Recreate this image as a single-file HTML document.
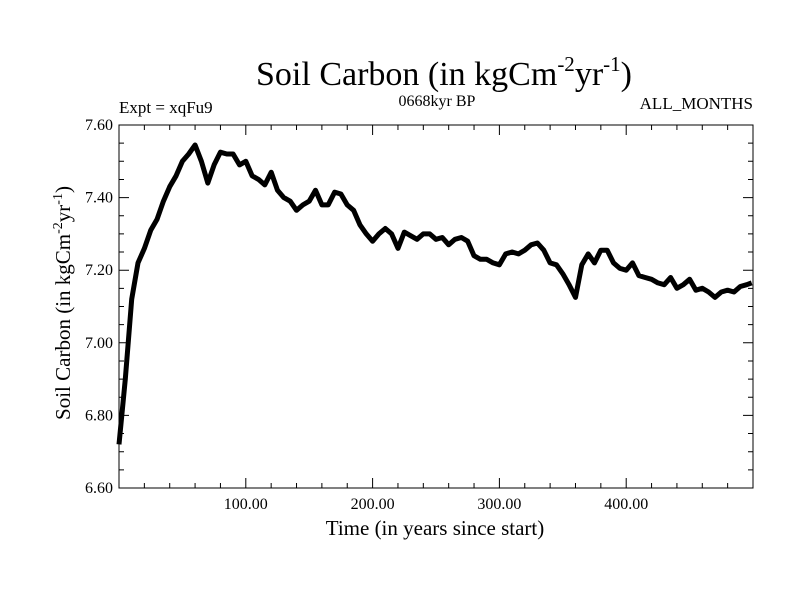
<!DOCTYPE html>
<html><head><meta charset="utf-8"><style>
body{margin:0;background:#fff}
svg text{font-family:"Liberation Serif",serif;fill:#000}
</style></head><body>
<svg width="800" height="600" viewBox="0 0 800 600">
<text x="444" y="85" font-size="34" text-anchor="middle">Soil Carbon (in kgCm<tspan font-size="21" dy="-14">-2</tspan><tspan dy="14">yr</tspan><tspan font-size="21" dy="-14">-1</tspan><tspan dy="14">)</tspan></text>
<text x="119" y="113" font-size="17">Expt = xqFu9</text>
<text x="437" y="106" font-size="16" text-anchor="middle">0668kyr BP</text>
<text x="753" y="109" font-size="17" text-anchor="end">ALL_MONTHS</text>
<text x="435" y="535" font-size="21" text-anchor="middle">Time (in years since start)</text>
<text transform="translate(70,303) rotate(-90)" font-size="21" text-anchor="middle">Soil Carbon (in kgCm<tspan font-size="14" dy="-8">-2</tspan><tspan dy="8">yr</tspan><tspan font-size="14" dy="-8">-1</tspan><tspan dy="8">)</tspan></text>
<g id="axes"></g>
<g id="series"></g>
<rect x="119" y="125" width="634" height="363" fill="none" stroke="#000" stroke-width="1"/>
</svg>
<script>
const years=[0,5,10,15,20,25,30,35,40,45,50,55,60,65,70,75,80,85,90,95,100,105,110,115,120,125,130,135,140,145,150,155,160,165,170,175,180,185,190,195,200,205,210,215,220,225,230,235,240,245,250,255,260,265,270,275,280,285,290,295,300,305,310,315,320,325,330,335,340,345,350,355,360,365,370,375,380,385,390,395,400,405,410,415,420,425,430,435,440,445,450,455,460,465,470,475,480,485,490,495,499];
const soilCarbon=[6.72,6.90,7.12,7.22,7.26,7.31,7.34,7.39,7.43,7.46,7.50,7.52,7.545,7.50,7.44,7.49,7.525,7.52,7.52,7.49,7.50,7.46,7.45,7.435,7.47,7.42,7.40,7.39,7.365,7.38,7.39,7.42,7.38,7.38,7.415,7.41,7.38,7.365,7.325,7.30,7.28,7.30,7.315,7.30,7.26,7.305,7.295,7.285,7.30,7.30,7.285,7.29,7.27,7.285,7.29,7.28,7.24,7.23,7.23,7.22,7.215,7.245,7.25,7.245,7.255,7.27,7.275,7.255,7.22,7.215,7.19,7.16,7.125,7.215,7.245,7.22,7.255,7.255,7.22,7.205,7.20,7.22,7.185,7.18,7.175,7.165,7.16,7.18,7.15,7.16,7.175,7.145,7.15,7.14,7.125,7.14,7.145,7.14,7.155,7.16,7.165];
const xTicks=[100,200,300,400];
const xTickLabels=["100.00","200.00","300.00","400.00"];
const yTicks=[6.6,6.8,7.0,7.2,7.4,7.6];
const yTickLabels=["6.60","6.80","7.00","7.20","7.40","7.60"];
const L=119,R=753,T=125,B=488,X0=0,X1=500,Y0=6.6,Y1=7.6;
const sx=v=>L+(v-X0)/(X1-X0)*(R-L);
const sy=v=>B-(v-Y0)/(Y1-Y0)*(B-T);
const NS="http://www.w3.org/2000/svg";
const ax=document.getElementById('axes');
function mk(t,a){const e=document.createElementNS(NS,t);for(const k in a)e.setAttribute(k,a[k]);return e;}
let d="";
for(let v=20;v<500;v+=20){const x=sx(v);const maj=v%100===0;const len=maj?10:5;d+=`M${x},${B}v${-len}M${x},${T}v${len}`;}
for(let v=6.65;v<7.6;v+=0.05){const y=sy(v);const maj=Math.abs((v*10)-Math.round(v*10))<0.01&&Math.round(v*10)%2===0;const len=maj?10:5;d+=`M${L},${y}h${len}M${R},${y}h${-len}`;}
const tk=mk('path',{d:d,stroke:'#000','stroke-width':1,fill:'none'});


ax.appendChild(tk);
xTicks.forEach((v,i)=>{const t=mk('text',{x:sx(v),y:B+21,'font-size':16,'text-anchor':'middle'});t.textContent=xTickLabels[i];


ax.appendChild(t);});
yTicks.forEach((v,i)=>{const t=mk('text',{x:L-6,y:sy(v)+5,'font-size':16,'text-anchor':'end'});t.textContent=yTickLabels[i];


ax.appendChild(t);});
const pts=years.map((y,i)=>sx(y).toFixed(1)+','+sy(soilCarbon[i]).toFixed(1)).join(' ');
const ln=mk('polyline',{points:pts,fill:'none',stroke:'#000','stroke-width':5,'stroke-linejoin':'round'});


document.getElementById('series').appendChild(ln);
</script>
</body></html>
